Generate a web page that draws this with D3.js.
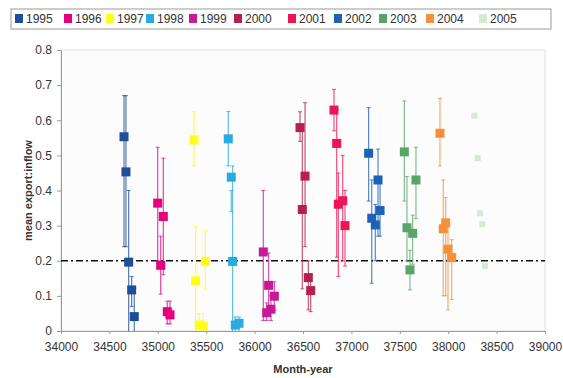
<!DOCTYPE html>
<html>
<head>
<meta charset="utf-8">
<script src="https://cdn.jsdelivr.net/npm/d3@7"></script>
<style>
  body { margin: 0; background: #fff; }
  svg { font-family: "Liberation Sans", Arial, sans-serif; }
</style>
</head>
<body>
<div id="chart"></div>
<script>
// series labels and colours
const years = ["1995", "1996", "1997", "1998", "1999", "2000", "2001", "2002", "2003", "2004", "2005"];
const colors = ["#1f4e99", "#e6007e", "#ffff1a", "#29abe2", "#c81a96", "#b5204f", "#ec1556", "#1e62b8", "#5aa469", "#f7903a", "#d3ead3"];

// month-year (serial date) of every point, per series
const dates = [
  [34651, 34671, 34699, 34730, 34757],
  [34999, 35057, 35030, 35098, 35126],
  [35374, 35391, 35429, 35470, 35491],
  [35728, 35759, 35773, 35801, 35839],
  [36090, 36145, 36204, 36125, 36169],
  [36469, 36521, 36493, 36555, 36579],
  [36820, 36848, 36865, 36910, 36934],
  [37178, 37275, 37210, 37296, 37247],
  [37547, 37667, 37574, 37633, 37605],
  [37915, 37949, 37974, 37998, 38036],
  [38270, 38305, 38329, 38353, 38381]
];

// mean export:inflow
const means = [
  [0.553, 0.453, 0.196, 0.117, 0.041],
  [0.364, 0.326, 0.187, 0.055, 0.046],
  [0.544, 0.143, 0.017, 0.014, 0.198],
  [0.547, 0.438, 0.198, 0.017, 0.022],
  [0.225, 0.130, 0.099, 0.052, 0.062],
  [0.579, 0.441, 0.346, 0.152, 0.115],
  [0.629, 0.534, 0.361, 0.371, 0.300],
  [0.506, 0.430, 0.321, 0.343, 0.302],
  [0.510, 0.430, 0.294, 0.278, 0.174],
  [0.563, 0.291, 0.308, 0.233, 0.209],
  [0.613, 0.492, 0.335, 0.304, 0.185]
];

// error bar ends (null = no bar)
const lows = [
  [0.24, 0.24, 0.0, 0.07, 0.0],
  [0.20, 0.16, 0.105, 0.02, 0.02],
  [0.47, 0.0, 0.0, 0.0, 0.12],
  [0.47, 0.34, 0.0, 0.0, 0.0],
  [0.03, 0.06, 0.06, 0.03, 0.03],
  [0.54, 0.24, 0.12, 0.06, 0.055],
  [0.57, 0.21, 0.155, 0.20, 0.185],
  [0.37, 0.27, 0.136, 0.27, 0.20],
  [0.37, 0.32, 0.20, 0.19, 0.117],
  [0.47, 0.10, 0.10, 0.06, 0.09],
  [null, null, null, null, null]
];
const highs = [
  [0.67, 0.67, 0.40, 0.155, 0.12],
  [0.523, 0.492, 0.27, 0.085, 0.085],
  [0.624, 0.297, 0.05, 0.05, 0.286],
  [0.625, 0.40, 0.47, 0.04, 0.04],
  [0.40, 0.222, 0.14, 0.08, 0.10],
  [0.624, 0.65, 0.58, 0.20, 0.16],
  [0.688, 0.63, 0.45, 0.50, 0.40],
  [0.636, 0.518, 0.43, 0.43, 0.36],
  [0.655, 0.523, 0.44, 0.33, 0.23],
  [0.662, 0.43, 0.38, 0.30, 0.26],
  [null, null, null, null, null]
];

const xTicks = [34000, 34500, 35000, 35500, 36000, 36500, 37000, 37500, 38000, 38500, 39000];
const yTicks = [0, 0.1, 0.2, 0.3, 0.4, 0.5, 0.6, 0.7, 0.8];
const threshold = 0.2;

const width = 563, height = 378;
const margin = { top: 50, right: 18, bottom: 47, left: 61 };

const svg = d3.select("#chart").append("svg")
  .attr("width", width)
  .attr("height", height);

const x = d3.scaleLinear().domain([34000, 39000]).range([margin.left, width - margin.right]);
const y = d3.scaleLinear().domain([0, 0.8]).range([height - margin.bottom, margin.top]);

// plot area
svg.append("rect")
  .attr("x", margin.left)
  .attr("y", margin.top)
  .attr("width", width - margin.left - margin.right)
  .attr("height", height - margin.top - margin.bottom)
  .attr("fill", "#fcfcfc")
  .attr("stroke", "#e2e2e2");

// axes
const xAxis = svg.append("g")
  .attr("transform", `translate(0,${y(0)})`)
  .call(d3.axisBottom(x).tickValues(xTicks).tickSize(3).tickPadding(8).tickFormat(d3.format("d")));
const yAxis = svg.append("g")
  .attr("transform", `translate(${margin.left},0)`)
  .call(d3.axisLeft(y).tickValues(yTicks).tickSize(4).tickPadding(5).tickFormat(d => d === 0 ? "0" : d3.format(".1f")(d)));

[xAxis, yAxis].forEach(g => {
  g.select(".domain").attr("stroke", "#9a9a9a");
  g.selectAll(".tick line").attr("stroke", "#9a9a9a");
  g.selectAll(".tick text").attr("fill", "#333").attr("font-size", 12);
});

// threshold line
svg.append("line")
  .attr("x1", margin.left).attr("x2", width - margin.right)
  .attr("y1", y(threshold)).attr("y2", y(threshold))
  .attr("stroke", "#111")
  .attr("stroke-width", 1.4)
  .attr("stroke-dasharray", "7,3,2,3");

// series
years.forEach((yr, s) => {
  const pts = dates[s].map((d, i) => ({ d, m: means[s][i], lo: lows[s][i], hi: highs[s][i] }));
  const g = svg.append("g");
  const bars = pts.filter(p => p.lo !== null);

  g.selectAll("line.err")
    .data(bars)
    .join("line")
    .attr("x1", p => x(p.d)).attr("x2", p => x(p.d))
    .attr("y1", p => y(p.lo)).attr("y2", p => y(p.hi))
    .attr("stroke", colors[s]).attr("stroke-width", 1.2).attr("opacity", 0.75);

  ["lo", "hi"].forEach(k => {
    g.selectAll("line.cap-" + k)
      .data(bars.filter(p => p[k] > 0))
      .join("line")
      .attr("x1", p => x(p.d) - 2).attr("x2", p => x(p.d) + 2)
      .attr("y1", p => y(p[k])).attr("y2", p => y(p[k]))
      .attr("stroke", colors[s]).attr("stroke-width", 1).attr("opacity", 0.75);
  });

  const sz = s === 10 ? 6 : 9;
  g.selectAll("rect")
    .data(pts)
    .join("rect")
    .attr("x", p => x(p.d) - sz / 2)
    .attr("y", p => y(p.m) - sz / 2)
    .attr("width", sz).attr("height", sz)
    .attr("fill", colors[s]);
});

// axis titles
svg.append("text")
  .attr("x", (margin.left + width - margin.right) / 2)
  .attr("y", 373)
  .attr("text-anchor", "middle")
  .attr("font-size", 11).attr("font-weight", "bold").attr("fill", "#333")
  .text("Month-year");

svg.append("text")
  .attr("transform", `translate(32,${(margin.top + height - margin.bottom) / 2}) rotate(-90)`)
  .attr("text-anchor", "middle")
  .attr("font-size", 11).attr("font-weight", "bold").attr("fill", "#333")
  .text("mean export:inflow");

// legend
const legendX = [15, 64, 106, 146, 189, 234, 288, 334, 379, 426, 479];
const legend = svg.append("g");
legend.append("rect")
  .attr("x", 11).attr("y", 9).attr("width", 540).attr("height", 20)
  .attr("fill", "#fff").attr("stroke", "#999");
years.forEach((yr, s) => {
  legend.append("rect")
    .attr("x", legendX[s]).attr("y", 14).attr("width", 8).attr("height", 9)
    .attr("fill", colors[s]);
  legend.append("text")
    .attr("x", legendX[s] + 11).attr("y", 23)
    .attr("font-size", 12).attr("fill", "#333")
    .text(yr);
});
</script>
</body>
</html>
